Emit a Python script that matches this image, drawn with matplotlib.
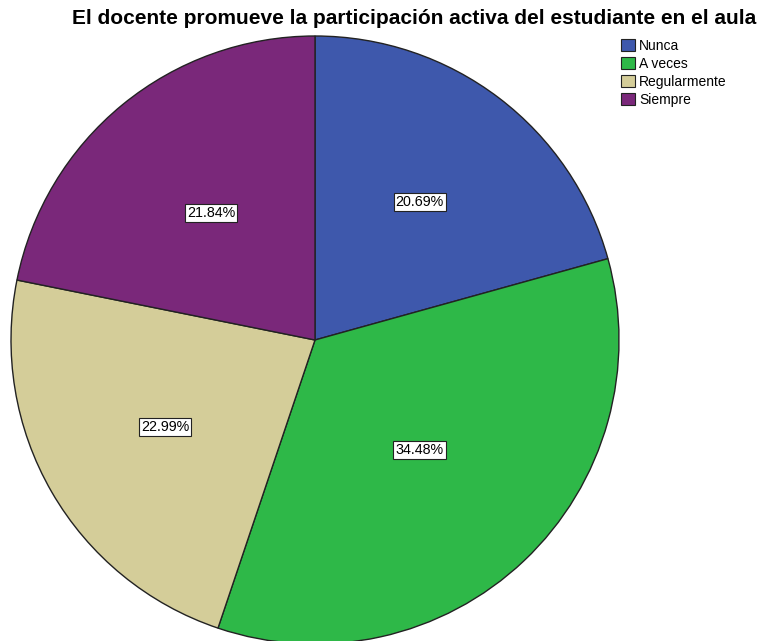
import matplotlib
matplotlib.use("Agg")
import matplotlib.pyplot as plt
import numpy as np

categories = ["Nunca", "A veces", "Regularmente", "Siempre"]
percentages = [20.69, 34.48, 22.99, 21.84]
colors = ["#3E58AC", "#2EB848", "#D4CD99", "#7A287A"]
label_dist = [0.57, 0.50, 0.57, 0.54]

plt.rcParams['font.family'] = ['Liberation Sans', 'DejaVu Sans']

W, H = 758, 641
fig = plt.figure(figsize=(W / 100, H / 100), dpi=100)
ax = fig.add_axes([0, 0, 1, 1])

cx, cy, R = 315, H - 340, 304
wedges, _ = ax.pie(percentages, colors=colors, startangle=90, counterclock=False,
                   center=(cx, cy), radius=R, frame=True,
                   wedgeprops=dict(edgecolor='#222222', linewidth=1.0))
ax.set_xlim(0, W)
ax.set_ylim(0, H)
ax.set_aspect('equal')
ax.axis('off')

for w, p, d in zip(wedges, percentages, label_dist):
    ang = np.deg2rad((w.theta1 + w.theta2) / 2)
    x = cx + d * R * np.cos(ang)
    y = cy + d * R * np.sin(ang)
    ax.text(x, y, f"{p:.2f}%", ha='center', va='center', fontsize=10.3,
            bbox=dict(boxstyle='square,pad=0.15', facecolor='white', edgecolor='#222222', linewidth=0.8))

fig.text(414 / W, 1 - 18 / H, "El docente promueve la participación activa del estudiante en el aula",
         ha='center', va='center', fontsize=15, fontweight='bold')

leg = fig.legend(wedges, categories, loc='upper left', bbox_to_anchor=(621 / W, 1 - 39 / H),
                 frameon=False, fontsize=10, handlelength=1.0, handleheight=0.95,
                 handletextpad=0.3, labelspacing=0.28, borderpad=0.0, borderaxespad=0)
for h in leg.legend_handles:
    h.set_edgecolor('#222222')
    h.set_linewidth(0.8)

fig.savefig("out.png", dpi=100)
